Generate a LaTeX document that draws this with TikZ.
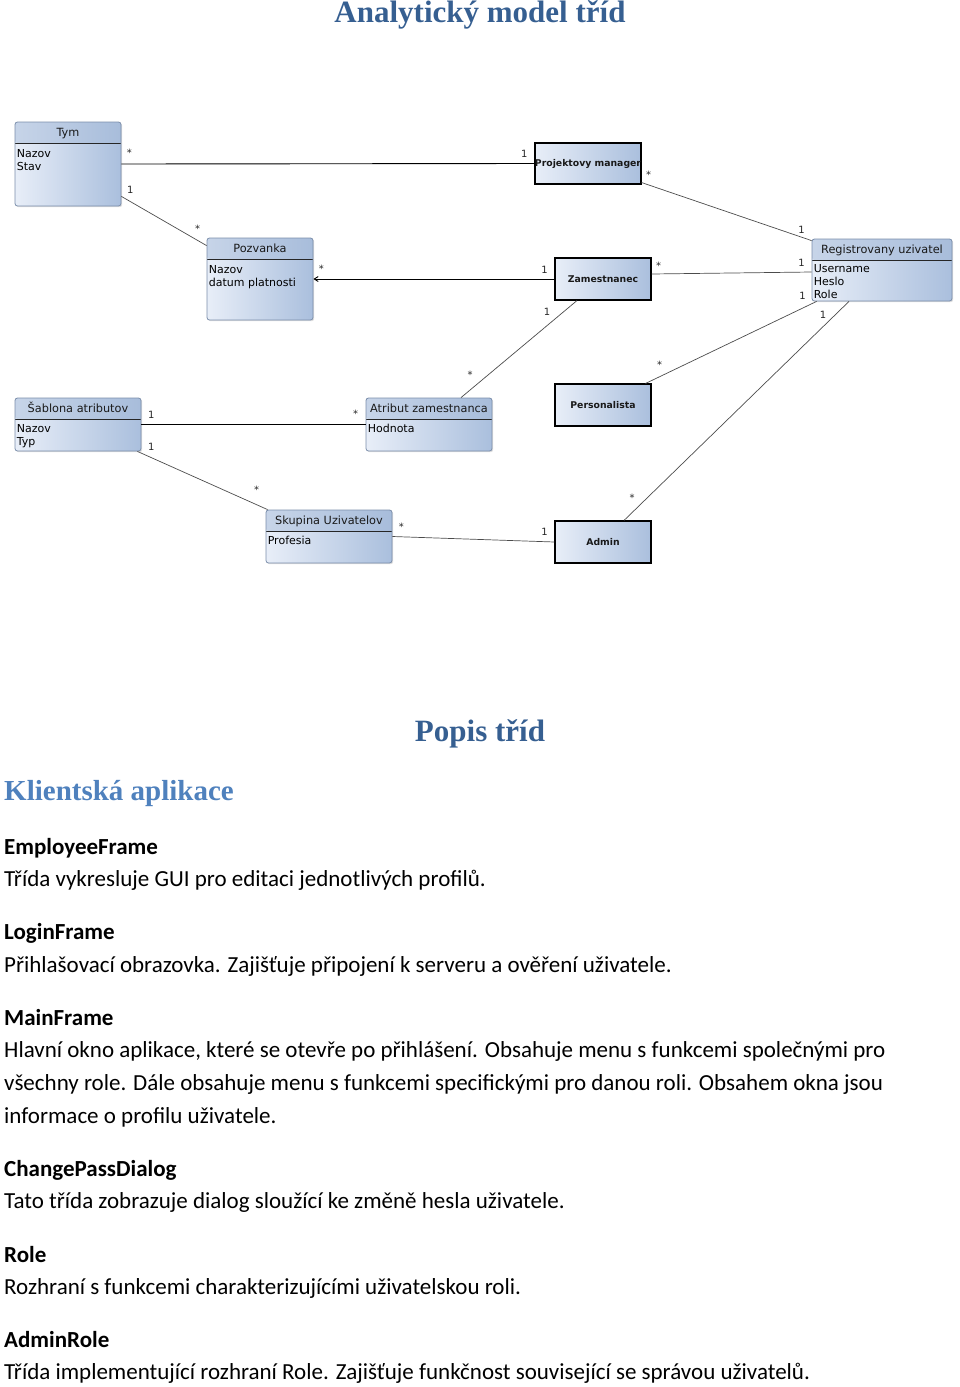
\documentclass[tikz,border=0pt]{standalone}
\usepackage{fontspec}
\setmainfont{Carlito}
\newfontfamily\headfont{Liberation Serif}
\newfontfamily\umlfont{DejaVu Sans}
\usepackage{xcolor}
\usepackage{tikz}
\usetikzlibrary{arrows.meta,shadows,positioning}

\definecolor{titleblue}{HTML}{365F91}
\definecolor{sectblue}{HTML}{4F81BD}
\definecolor{boxlight}{HTML}{E8EEF8}
\definecolor{boxdark}{HTML}{AABFDD}
\definecolor{boxhead}{HTML}{A7BCDA}
\definecolor{boxedge}{HTML}{7A8DAA}

\tikzset{
  classbox/.style={draw=boxedge,line width=0.8pt,rounded corners=2.5pt,left color=boxlight,right color=boxdark,
    drop shadow={opacity=0.25,shadow xshift=1.2pt,shadow yshift=-1.2pt},inner sep=0pt,
    path picture={
      \fill[boxhead,opacity=0.5](path picture bounding box.north west)rectangle([yshift=-21pt]path picture bounding box.north east);
      \draw[black!85,line width=1pt]([yshift=-21pt]path picture bounding box.north west)--([yshift=-21pt]path picture bounding box.north east);}},
  plainbox/.style={draw=black,line width=1.1pt,left color=boxlight,right color=boxdark,
    drop shadow={opacity=0.25,shadow xshift=1.2pt,shadow yshift=-1.2pt},inner sep=0pt,
    font=\umlfont\bfseries\fontsize{9.3}{11}\selectfont,text=black!90},
  classname/.style={font=\umlfont\fontsize{11.3}{13}\selectfont,inner sep=0pt,text height=8.5pt,text depth=2.5pt,text=black!90},
  attrs/.style={font=\umlfont\fontsize{11}{13}\selectfont,align=left,inner sep=0pt,text=black},
  assoc/.style={line width=0.7pt,black!70},
  strong/.style={line width=0.9pt,black},
  mult/.style={font=\umlfont\fontsize{10}{11}\selectfont,inner sep=0pt,text=black!85},
  heading/.style={font=\headfont\bfseries\fontsize{31}{36}\selectfont,text=titleblue,anchor=base,inner sep=0pt},
  entryhead/.style={font=\bfseries\fontsize{23}{33}\selectfont,anchor=base west,inner sep=0pt},
  entryline/.style={font=\fontsize{23}{33}\selectfont,anchor=base west,inner sep=0pt},
}

\begin{document}
\begin{tikzpicture}[x=1pt,y=-1pt]
\useasboundingbox (0,0) rectangle (960,1387);
\node[heading](title)at(480,22){Analytický model tříd};

\node[classbox,minimum width=106pt,minimum height=84pt](tym)at(68,164){};
\node[classname,below=6.5pt of tym.north](tymname){Tym};
\node[attrs,below right=28pt and 2pt of tym.north west](tymattr){Nazov\\Stav};

\node[plainbox,minimum width=106pt,minimum height=41pt](pm)at(588,163.5){Projektovy manager};

\node[classbox,minimum width=106pt,minimum height=82pt](pozv)at(260,279){};
\node[classname,below=6.5pt of pozv.north](pozvname){Pozvanka};
\node[attrs,below right=28pt and 2pt of pozv.north west](pozvattr){Nazov\\datum platnosti};

\node[plainbox,minimum width=96pt,minimum height=42pt](zam)at(603,279){Zamestnanec};

\node[classbox,minimum width=140pt,minimum height=62pt](reg)at(882,270){};
\node[classname,below=6pt of reg.north](regname){Registrovany uzivatel};
\node[attrs,below right=26pt and 2pt of reg.north west](regattr){Username\\Heslo\\Role};

\node[classbox,minimum width=126pt,minimum height=53pt](sab)at(78,424.5){};
\node[classname,below=6pt of sab.north](sabname){Šablona atributov};
\node[attrs,below right=27pt and 2pt of sab.north west](sabattr){Nazov\\Typ};

\node[classbox,minimum width=126pt,minimum height=53pt](atr)at(429,424.5){};
\node[classname,below=6pt of atr.north](atrname){Atribut zamestnanca};
\node[attrs,below right=26pt and 2pt of atr.north west](atrattr){Hodnota};

\node[plainbox,minimum width=96pt,minimum height=42pt](pers)at(603,405){Personalista};

\node[classbox,minimum width=126pt,minimum height=53pt](skup)at(329,536.5){};
\node[classname,below=6pt of skup.north](skupname){Skupina Uzivatelov};
\node[attrs,below right=26pt and 2pt of skup.north west](skupattr){Profesia};

\node[plainbox,minimum width=96pt,minimum height=42pt](admin)at(603,542){Admin};

\draw[strong](tym.east)--(pm.west)node[mult,pos=0,xshift=8pt,yshift=11pt](m1a){*}node[mult,pos=1,xshift=-10pt,yshift=10pt](m1b){1};
\draw[assoc]([yshift=10pt]tym.south east)--([yshift=-8pt]pozv.north west)node[mult,pos=0,xshift=9pt,yshift=7pt](m2a){1}node[mult,pos=1,xshift=-9pt,yshift=17pt](m2b){*};
\draw[strong,-{Straight Barb[length=4pt,width=5pt]}](zam.west)--(pozv.east)node[mult,pos=0,xshift=-10pt,yshift=9pt](m3a){1}node[mult,pos=1,xshift=8pt,yshift=10pt](m3b){*};
\draw[assoc]([yshift=2pt]pm.south east)--([yshift=-2pt]reg.north west)node[mult,pos=0,xshift=7pt,yshift=8pt](m4a){*}node[mult,pos=1,xshift=-10pt,yshift=11pt](m4b){1};
\draw[assoc]([yshift=5pt]zam.east)--([yshift=-2pt]reg.west)node[mult,pos=0,xshift=7pt,yshift=8pt](m5a){*}node[mult,pos=1,xshift=-10pt,yshift=9pt](m5b){1};
\draw[assoc]([xshift=-26pt]zam.south)--([xshift=32pt]atr.north)node[mult,pos=0,xshift=-30pt,yshift=-11pt](m6a){1}node[mult,pos=1,xshift=9pt,yshift=23pt](m6b){*};
\draw[assoc]([xshift=5pt]reg.south west)--([xshift=-6pt]pers.north east)node[mult,pos=0,xshift=-14pt,yshift=6pt](m7a){1}node[mult,pos=1,xshift=14pt,yshift=19pt](m7b){*};
\draw[assoc]([xshift=-33pt]reg.south)--([xshift=21pt]admin.north)node[mult,pos=0,xshift=-26pt,yshift=-13pt](m8a){1}node[mult,pos=1,xshift=8pt,yshift=23pt](m8b){*};
\draw[strong](sab.east)--(atr.west)node[mult,pos=0,xshift=10pt,yshift=10pt](m9a){1}node[mult,pos=1,xshift=-10pt,yshift=11pt](m9b){*};
\draw[assoc]([xshift=-4pt]sab.south east)--([xshift=2pt]skup.north west)node[mult,pos=0,xshift=14pt,yshift=5pt](m10a){1}node[mult,pos=1,xshift=-11pt,yshift=20pt](m10b){*};
\draw[assoc](skup.east)--(admin.west)node[mult,pos=0,xshift=9pt,yshift=10pt](m11a){*}node[mult,pos=1,xshift=-10pt,yshift=10pt](m11b){1};

\node[heading](popis)at(480,741){Popis tříd};
\node[heading,anchor=base west,text=sectblue,font=\headfont\bfseries\fontsize{29}{34}\selectfont](klient)at(4,800){Klientská aplikace};

\node[entryhead](employee)at(4,854){EmployeeFrame};
\node[entryline](employeetxt)at(4,886){Třída vykresluje GUI pro editaci jednotlivých profilů.};
\node[entryhead](login)at(4,939){LoginFrame};
\node[entryline](logintxt)at(4,972){Přihlašovací obrazovka. Zajišťuje připojení k serveru a ověření uživatele.};
\node[entryhead](mainframe)at(4,1025){MainFrame};
\node[entryline](maintxta)at(4,1057){Hlavní okno aplikace, které se otevře po přihlášení. Obsahuje menu s funkcemi společnými pro};
\node[entryline](maintxtb)at(4,1090){všechny role. Dále obsahuje menu s funkcemi specifickými pro danou roli. Obsahem okna jsou};
\node[entryline](maintxtc)at(4,1123){informace o profilu uživatele.};
\node[entryhead](changepass)at(4,1176){ChangePassDialog};
\node[entryline](changepasstxt)at(4,1208){Tato třída zobrazuje dialog sloužící ke změně hesla uživatele.};
\node[entryhead](role)at(4,1262){Role};
\node[entryline](roletxt)at(4,1294){Rozhraní s funkcemi charakterizujícími uživatelskou roli.};
\node[entryhead](adminrole)at(4,1347){AdminRole};
\node[entryline](adminroletxt)at(4,1379){Třída implementující rozhraní Role. Zajišťuje funkčnost související se správou uživatelů.};
\end{tikzpicture}
\end{document}
